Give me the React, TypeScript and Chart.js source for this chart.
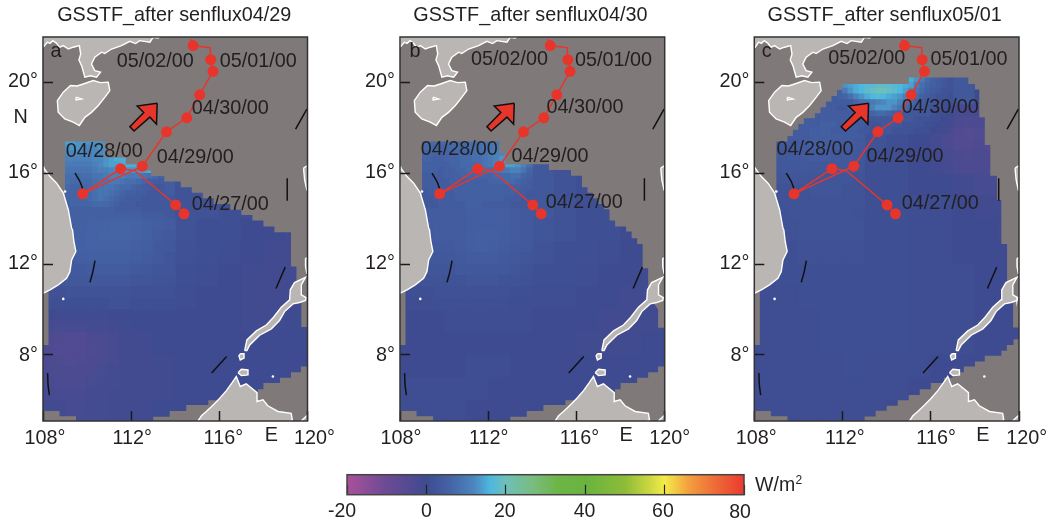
import React, { useEffect, useRef } from "react";
import { Chart, registerables } from "chart.js";

Chart.register(...registerables);

const FONT = '"Liberation Sans", Arial, sans-serif';
const TEXT = "#231F20";
const SEA_MISSING = "#7F7A79";
const LAND = "#BAB6B4";
const RED = "#E8352C";

const lonTicks = [108, 112, 116, 120];
const latTicks = [8, 12, 16, 20];
const barTicks = [-20, 0, 20, 40, 60, 80];
const titles = ["GSSTF_after senflux04/29", "GSSTF_after senflux04/30", "GSSTF_after senflux05/01"];
const dateLabels = ["05/02/00", "05/01/00", "04/30/00", "04/29/00", "04/28/00", "04/27/00"];

// colour scale stops: value, colour
const colorStops: [number, string][] = [
  [-20, "#A9519B"], [-10, "#6C4A94"], [0, "#3E4B90"], [6, "#4464A6"], [11.8, "#4C84BC"], [16, "#4DB7DF"],
  [20, "#6FBFB9"], [27, "#79BC7D"], [33, "#6EB447"], [40, "#69B33F"], [50, "#8DBC38"], [56, "#C9D640"],
  [60, "#F3EC48"], [66, "#F3A03E"], [72, "#EE7038"], [80, "#EB3A2F"],
];

// storm track: lon, lat, marker?
const trackLon = [114.4, 114.02, 112.17, 111.52, 109.8, 112.51, 113.6, 114.52, 115.11, 115.71, 115.61, 115.59, 114.81, 114.69];
const trackLat = [14.22, 14.61, 16.12, 16.21, 15.1, 16.32, 17.83, 18.45, 19.46, 20.5, 21.01, 21.54, 21.63, 21.91];
const trackMarker = [1, 1, 0, 1, 1, 1, 1, 1, 1, 1, 1, 0, 1, 0];

const arrowShape = [[113.18, 19.09], [112.27, 18.97], [112.57, 18.68], [111.94, 18.06], [112.13, 17.87], [112.85, 18.48], [113.15, 18.17]];

const blackArcs = [
  [[109.45, 16.01], [109.68, 15.63], [109.86, 15.13]],
  [[119.46, 17.95], [119.97, 18.83]],
  [[119.08, 15.79], [119.08, 14.79]],
  [[110.36, 12.16], [110.26, 11.66], [110.13, 11.2]],
  [[118.99, 11.87], [118.57, 10.93]],
  [[116.33, 7.93], [115.65, 7.2]],
  [[108.21, 7.2], [108.23, 6.68], [108.29, 6.23]],
];

const landChina = [[108, 21.56], [108.04, 21.56], [108.2, 21.78], [108.32, 21.73], [108.45, 21.85], [108.62, 21.73], [108.75, 21.55], [108.92, 21.63], [109.15, 21.48], [109.37, 21.56], [109.65, 21.63], [109.71, 21.26], [109.63, 21.0], [109.75, 20.75], [109.9, 20.24], [110.15, 20.3], [110.43, 20.24], [110.61, 20.46], [110.35, 20.53], [110.2, 20.82], [110.35, 21.12], [110.66, 21.34], [110.8, 21.28], [111.11, 21.48], [111.56, 21.63], [111.94, 21.82], [112.2, 21.72], [112.39, 21.85], [112.85, 21.78], [113.0, 22.0], [113.22, 21.97], [113.37, 22.07], [113.4, 22.2], [108, 22.2]];
const landHainan = [[108.65, 19.21], [108.92, 19.58], [109.25, 19.87], [109.55, 19.85], [109.83, 19.94], [110.28, 20.09], [110.6, 20.0], [110.96, 20.02], [111.03, 19.65], [110.81, 19.36], [110.51, 18.99], [110.2, 18.69], [109.9, 18.47], [109.65, 18.11], [109.37, 18.26], [108.99, 18.4], [108.69, 18.7]];
const landLake = [[109.5, 19.36], [109.75, 19.28], [109.5, 19.24]];
const landVietnam = [[108, 16.3], [108.04, 16.23], [108.32, 15.86], [108.62, 15.57], [108.92, 15.13], [109.15, 14.39], [109.3, 13.58], [109.34, 13.51], [109.4, 13.0], [109.49, 12.56], [109.3, 12.19], [109.22, 11.67], [109.07, 11.38], [108.69, 11.09], [108.32, 10.87], [108, 10.72]];
const landBorneo = [[115.04, 4.9], [115.04, 5.1], [115.19, 5.32], [115.41, 5.51], [115.72, 5.8], [116.02, 6.09], [116.32, 6.43], [116.58, 6.78], [116.77, 7.05], [116.95, 6.61], [117.22, 6.73], [117.71, 6.34], [117.71, 5.95], [117.98, 6.02], [118.2, 5.76], [118.66, 5.51], [119.26, 5.43], [119.31, 5.14], [119.03, 5.0]];
const landCorner = [[119.72, 5.0], [119.72, 5.1], [119.97, 5.32], [120.1, 5.32], [120.1, 5.0]];
const landBalabac = [[116.85, 7.22], [117.0, 7.37], [117.3, 7.34], [117.3, 7.12], [117.0, 7.09]];
const landBanggi = [[116.95, 8.05], [117.12, 8.05], [117.12, 7.86], [116.95, 7.78], [116.89, 7.96]];
const landPalawan = [[117.15, 8.19], [117.25, 8.66], [117.68, 9.06], [118.13, 9.32], [118.46, 9.66], [118.81, 10.1], [119.19, 10.43], [119.22, 10.87], [119.41, 11.19], [119.91, 11.42], [119.72, 11.09], [119.72, 10.65], [119.94, 10.53], [119.91, 10.4], [119.64, 10.31], [119.34, 10.25], [118.96, 9.91], [118.73, 9.52], [118.36, 9.15], [117.83, 8.87], [117.38, 8.44], [117.25, 8.19]];
const landLuzon = [[119.82, 16.23], [119.97, 16.33], [120.1, 16.3], [120.1, 15.27], [119.97, 15.27], [119.87, 15.71]];
const landMindoro = [[119.91, 12.26], [120.1, 12.26], [120.1, 11.6], [119.97, 11.6], [119.91, 11.9]];
const tinyIslands = [[118.43, 7.05], [108.92, 10.47], [109.0, 15.2]];
const lands = [landChina, landHainan, landLake, landVietnam, landBorneo, landCorner, landBalabac, landBanggi, landPalawan, landLuzon, landMindoro];

// missing-data masks, shared by the panels
const maskLeftStrip = [[108, 11], [108.25, 11], [108.25, 8.44], [108, 8.44]];
const maskBottomLeft = [[108, 5], [108, 5.53], [108.75, 5.53], [108.75, 5.3], [109.5, 5.3], [109.5, 5]];
const maskBottomAB = [[113, 5], [113, 5.28], [113.75, 5.28], [113.75, 5.53], [114.5, 5.53], [114.5, 5.79], [115.5, 5.79], [115.5, 6], [116.5, 6], [117, 6.2], [117.75, 6.3], [117.75, 6.49], [118, 6.49], [118, 6.76], [118.75, 6.76], [118.75, 7], [119.25, 7], [119.25, 7.24], [119.7, 7.24], [119.7, 7.49], [120, 7.49], [120, 5]];
const maskBottomC = [[113, 5], [113, 5.29], [113.5, 5.29], [113.5, 5.54], [114, 5.54], [114, 5.76], [114.5, 5.76], [114.5, 6], [115, 6], [115, 6.24], [115.5, 6.24], [115.5, 6.49], [116, 6.49], [116, 6.76], [116.6, 6.76], [116.6, 7], [117, 7], [117, 7.24], [117.5, 7.24], [117.5, 7.49], [118, 7.49], [118, 7.71], [118.45, 7.71], [118.45, 7.96], [119.2, 7.96], [119.2, 8.19], [119.45, 8.19], [119.45, 8.44], [119.75, 8.44], [119.75, 8.69], [120, 8.69], [120, 5]];
const maskTopA = [[108, 22.2], [120, 22.2], [120, 9.23], [119.72, 9.23], [119.72, 10.5], [119.5, 10.9], [119.5, 11.9], [119.25, 11.9], [119.25, 13.41], [118.5, 13.41], [118.5, 13.66], [118, 13.66], [118, 13.92], [117.5, 13.92], [117.5, 14.17], [117, 14.17], [117, 14.4], [116.5, 14.4], [116.5, 14.65], [115.75, 14.65], [115.75, 14.9], [115.25, 14.9], [115.25, 15.15], [114.75, 15.15], [114.75, 15.39], [114.25, 15.39], [114.25, 15.64], [113.5, 15.64], [113.5, 15.89], [112.9, 15.89], [112.9, 16.13], [112.25, 16.13], [112.25, 16.4], [111.75, 16.4], [111.75, 16.7], [110.8, 16.7], [110.8, 17.4], [109, 17.4], [109, 14], [108, 14]];
const maskTopB = [[108, 22.2], [120, 22.2], [120, 9.2], [119.7, 9.2], [119.7, 10], [119.45, 10.35], [119.25, 10.9], [119.25, 11.82], [119, 11.82], [119, 12.89], [118.75, 12.89], [118.75, 13.14], [118.5, 13.14], [118.5, 13.44], [118.25, 13.44], [118.25, 13.66], [117.75, 13.66], [117.75, 13.92], [117.5, 13.92], [117.5, 14.42], [117.25, 14.42], [117.25, 14.65], [117, 14.65], [117, 14.9], [116.75, 14.9], [116.75, 15.15], [116.5, 15.15], [116.5, 15.39], [116.25, 15.39], [116.25, 15.9], [115.75, 15.9], [115.75, 16.15], [114.75, 16.15], [114.75, 16.4], [112.75, 16.4], [112.75, 16.89], [112.5, 16.89], [112.5, 17.4], [109, 17.4], [109, 14], [108, 14]];
const maskTopC = [[108, 22.2], [120, 22.2], [120, 9.21], [119.73, 9.21], [119.73, 10.3], [119.46, 10.6], [119.46, 12.89], [119.2, 12.89], [119.2, 14.83], [119, 14.83], [119, 15.9], [118.7, 15.9], [118.7, 17.25], [118.45, 17.25], [118.45, 18.47], [118.2, 18.47], [118.2, 19.7], [118, 19.7], [118, 19.94], [117.7, 19.94], [117.7, 20.22], [115, 20.22], [115, 19.94], [112, 19.94], [112, 19.68], [111.75, 19.68], [111.75, 19.41], [111.5, 19.41], [111.5, 19.17], [111.25, 19.17], [111.25, 18.92], [111, 18.92], [111, 18.65], [110.75, 18.65], [110.75, 18.43], [110.25, 18.43], [110.25, 18.18], [110, 18.18], [110, 17.92], [109.75, 17.92], [109.75, 17.65], [109.5, 17.65], [109.5, 17.4], [109, 17.4], [109, 14], [108, 14]];

// flux values on a 1 degree grid, rows from 21N to 5N, columns from 108E
const fluxA = [
  [0, 0, 0, 0, 0, 0, 0, 0, 0, 0, 0, 0],
  [0, 0, 0, 0, 0, 0, 0, 0, 0, 0, 0, 0],
  [0, 0, 0, 0, 0, 0, 0, 0, 0, 0, 0, 0],
  [6, 8, 8, 8, 6, 3, 2, 1, 1, 1, 1, 0],
  [6, 8, 8, 9, 8, 4, 3, 2, 1, 1, 1, 0],
  [5, 6, 6, 6, 5, 4, 2, 2, 1, 1, 0, 0],
  [5, 5, 4, 4, 3, 3, 2, 2, 1, 1, 0, 0],
  [4, 5, 6, 6, 5, 3, 2, 1, 1, 0, 0, -1],
  [3, 4, 5, 5, 4, 2, 1.5, 1, 0.5, 0, -1, -1],
  [3, 3, 3, 3, 2, 1.5, 1, 0.5, 0, -0.5, -1, -1],
  [1, 1, 1, 1, 1, 1, 0.5, 0, 0, -0.5, -1, -1],
  [-1, -1, -1, -0.5, 0, 0, 0, 0, 0, -0.5, -0.5, 0],
  [-3, -4, -3.5, -2, -1, 0, 0, 0, 0, 0, 0, 0],
  [-3, -3.5, -3, -2, -1, -0.5, 0, 0, 0, 0, 0, 0],
  [-2, -2.5, -2, -1.5, -1, -0.5, 0, 0, 0, 0, 0, 0],
  [-1, -2, -1.5, -1, -1, 0, 0, 0, 0, 0, 0, 0],
];
const fluxB = [
  [0, 0, 0, 0, 0, 0, 0, 0, 0, 0, 0, 0],
  [0, 0, 0, 0, 0, 0, 0, 0, 0, 0, 0, 0],
  [0, 0, 0, 0, 0, 0, 0, 0, 0, 0, 0, 0],
  [5, 6, 6, 7, 7, 5, 3, 3, 2, 2, 1, 1],
  [5, 5, 6, 7, 8, 6, 3, 2, 2, 1, 1, 1],
  [4, 4, 5, 5, 5, 5, 3, 2, 1, 1, 1, 0],
  [3, 4, 4, 5, 5, 4, 3, 2, 1, 1, 1, 0],
  [3, 4, 4, 4, 5, 4, 2.5, 2, 1, 1, 0, 0],
  [2, 3, 4, 4, 4.5, 3, 2, 1, 1, 0.5, 0, 0],
  [2, 2, 2, 3, 3, 2, 1, 1, 0.5, 0, 0, -0.5],
  [1, 1, 1, 1.5, 1.5, 1, 0.5, 0.5, 0, 0, -1, -1],
  [0, 0, 0.5, 0.5, 0.5, 0.5, 0, 0, 0, -1, -1, -0.5],
  [0, 0, 0, 0, 0, 0, 0, 0, -0.5, -1, -0.5, 0],
  [0, 0, 0, 0.5, 0.5, 0, 0, 0, 0, 0, 0, 0],
  [0.5, 0.5, 0.5, 0.5, 0, 0, 0, 0, 0, 0, 0, 0],
  [0.5, 0.5, 0.5, 0, 0, 0, 0, 0, 0, 0, 0, 0],
];
const fluxC = [
  [0, 0, 0, 0, 5, 8, 8, 8, 6, 3, 1, 0],
  [0, 0, 2, 3, 4, 6, 8, 8, 6, 3, 0, -1],
  [0, 2, 4, 4, 3, 2, 3, 3, 2, -1, -2, -2],
  [3, 4, 5, 4, 3, 2, 1, 0, -1, -3, -5, -3],
  [3, 3, 3, 3, 2, 1, 1, 0, -1, -2, -3, -3],
  [2, 2, 2, 2, 2, 1, 1, 0, 0, -1, -2, -2],
  [1.5, 2, 2, 2, 2, 1, 1, 0.5, 0.5, 0, -1, -1],
  [1, 1.5, 2, 2, 2, 1, 1, 0.5, 0.5, 0, 0, -0.5],
  [1, 1, 1.5, 1.5, 1.5, 1, 1, 0.5, 0.5, 0, 0, 0],
  [0.5, 1, 1, 1, 1, 1, 1, 0.5, 0.5, 0.5, 0, 0],
  [0.5, 0.5, 1, 1, 1, 1, 1, 0.5, 0.5, 0.5, 0, 0],
  [0.5, 0.5, 0.5, 1, 1, 1, 1, 0.5, 0.5, 0.5, 0, 0],
  [0.5, 0.5, 0.5, 1, 1, 1, 1, 0.5, 0.5, 0.5, 0, 0],
  [0.5, 0.5, 0.5, 0.5, 1, 0.5, 0.5, 0.5, 0, 0, 0, 0],
  [0.5, 0.5, 0.5, 0.5, 0.5, 0.5, 0.5, 0, 0, 0, 0, 0],
  [0.5, 0.5, 0.5, 0.5, 0.5, 0.5, 0, 0, 0, 0, 0, 0],
];

// 0.5 degree detail
const midA1 = [
  [4.5, 4.5, 5, 5, 5.5, 5.5, 6, 6, 5.5, 5, 4.5, 4],
  [4, 4.5, 5, 5, 5.5, 6, 6, 6, 5.5, 5, 4, 3.5],
  [3.5, 4, 4.5, 5, 5.5, 5.5, 5.5, 5.5, 5, 4.5, 3.5, 3],
  [3, 3.5, 4, 4.5, 5, 5, 5, 5, 4.5, 4, 3.5, 2.5],
  [3, 3, 3.5, 3.5, 4, 4, 4, 4, 3.5, 3, 2.5, 2.5],
  [2.5, 2.5, 3, 3, 3, 3, 3, 3, 2.5, 2.5, 2, 2],
  [1.5, 1.5, 2, 2, 2, 2, 2, 2, 1.5, 1.5, 1.5, 1.5],
  [1, 1, 1, 1, 1, 1, 1.5, 1.5, 1, 1, 1, 1],
];
const midA2 = [
  [0, -0.5, -0.5, -0.5, -0.5, -0.5, 0, 0],
  [-1.5, -2, -2, -2, -1.5, -1.5, -1, -0.5],
  [-3, -3.5, -4, -4, -3, -2.5, -2, -1],
  [-3.5, -4, -4.5, -4, -3.5, -3, -2, -1],
  [-3, -3.5, -4, -3.5, -3, -2.5, -2, -1],
  [-2.5, -3, -3, -3, -2.5, -2, -1.5, -1],
  [-2, -2.5, -2.5, -2.5, -2, -1.5, -1.5, -1],
  [-1.5, -2, -2, -2, -1.5, -1.5, -1, -1],
];
const midB1 = [
  [3.5, 3.5, 4, 4, 4, 4, 4.5, 4.5, 4.5, 4.5, 4, 3.5],
  [3.5, 3.5, 4, 4, 4, 4, 4.5, 4.5, 4.5, 4.5, 4, 3.5],
  [3, 3.5, 3.5, 4, 4, 4, 4.5, 5, 5, 4.5, 4, 3.5],
  [3, 3, 3.5, 3.5, 3.5, 4, 4.5, 5, 4.5, 4, 3.5, 3],
  [2.5, 2.5, 3, 3, 3, 3.5, 4, 4, 4, 3.5, 3, 2.5],
  [2, 2, 2.5, 2.5, 2.5, 3, 3, 3, 3, 3, 2.5, 2],
  [1.5, 1.5, 2, 2, 2, 2, 2.5, 2.5, 2.5, 2, 2, 1.5],
  [1, 1, 1, 1.5, 1.5, 1.5, 1.5, 1.5, 1.5, 1.5, 1, 1],
  [0.5, 0.5, 0.5, 1, 1, 1, 1, 1, 1, 1, 0.5, 0.5],
];
const midC1 = [
  [0, -1, -2, -2, -1.5],
  [-1, -2, -3, -3.5, -3],
  [-2, -3, -4.5, -5, -4],
  [-1.5, -2.5, -4, -4.5, -3.5],
  [-1, -2, -3, -3.5, -3],
  [-1, -1.5, -2.5, -3, -3],
];
const midC2 = [
  [3.5, 4, 4, 4.5, 4.5, 4.5, 4, 4],
  [3.5, 3.5, 4, 4.5, 4.5, 4, 4, 3.5],
  [3, 3.5, 3.5, 4, 4, 3.5, 3.5, 3],
  [3, 3, 3, 3, 3, 3, 3, 2.5],
  [2.5, 2.5, 2.5, 2.5, 2.5, 2.5, 2.5, 2],
  [2, 2, 2, 2.5, 2.5, 2.5, 2, 2],
  [2, 2, 2, 2, 2, 2, 2, 2],
  [1.5, 2, 2, 2, 2, 2, 2, 1.5],
];

// 0.25 degree detail where the flux is strong
const hotA = [
  [14, 14, 13, 13, 13, 13, 13, 13, 14, 14, 14, 14, 14, 14, 10, 8, 6, 6],
  [13, 13, 13, 12, 12, 12, 13, 13, 14, 14, 15, 15, 15, 15, 10, 8, 6, 6],
  [12, 12, 12, 12, 11, 12, 12, 13, 14, 15, 15, 16, 16, 15, 12, 8, 6, 6],
  [11, 11, 11, 11, 11, 12, 12, 13, 14, 15, 15, 16, 16, 15, 14, 10, 7, 6],
  [10, 10, 10, 10, 10, 11, 12, 13, 14, 14, 15, 15, 15, 15, 15, 15, 13, 9],
  [9, 9, 9, 9, 9, 10, 11, 11, 12, 13, 13, 13, 13, 13, 14, 15, 13, 8],
  [8, 8, 7, 8, 8, 9, 9, 10, 11, 11, 11, 10, 10, 10, 9, 8, 7, 5],
  [8, 7, 7, 7, 7, 8, 9, 9, 10, 10, 9, 8, 8, 7, 6, 5, 4, 4],
  [7, 6, 6, 6, 7, 8, 9, 9, 9, 8, 7, 7, 6, 5, 4, 4, 3, 3],
  [6, 6, 6, 6, 7, 8, 9, 9, 8, 7, 6, 5, 5, 4, 4, 3, 3, 3],
  [6, 6, 6, 6, 7, 8, 9, 8, 7, 6, 5, 4, 4, 4, 3, 3, 3, 3],
  [5, 6, 6, 6, 6, 7, 7, 7, 6, 5, 4, 4, 4, 3, 3, 3, 3, 3],
  [5, 5, 5, 5, 5, 5, 5, 5, 5, 4, 4, 4, 4, 4, 3, 3, 3, 3],
  [5, 5, 5, 5, 5, 5, 5, 5, 5, 5, 5, 5, 5, 5, 4, 4, 4, 4],
];
const hotB = [
  [7, 7, 7, 7, 7, 7, 7, 7, 8, 8, 8, 9, 9, 9, 9, 9, 6, 6, 6, 6],
  [7, 7, 6, 6, 6, 7, 7, 7, 8, 8, 8, 9, 9, 10, 10, 10, 8, 6, 6, 6],
  [6, 6, 6, 6, 6, 6, 7, 7, 7, 8, 8, 9, 10, 11, 12, 13, 14, 12, 8, 6],
  [6, 6, 5, 5, 6, 6, 6, 7, 7, 8, 8, 9, 10, 11, 13, 14, 15, 14, 10, 8],
  [5, 5, 5, 5, 5, 6, 6, 7, 7, 7, 8, 9, 10, 12, 13, 14, 14, 13, 11, 8],
  [5, 5, 5, 4, 5, 5, 6, 6, 7, 7, 7, 8, 8, 9, 10, 10, 11, 11, 9, 6],
  [4, 4, 4, 4, 5, 5, 5, 6, 6, 6, 6, 6, 6, 7, 7, 7, 8, 8, 6, 5],
  [4, 4, 4, 4, 4, 5, 5, 5, 5, 5, 5, 5, 6, 6, 6, 7, 7, 6, 5, 4],
  [4, 4, 4, 4, 4, 4, 5, 5, 5, 5, 5, 5, 5, 5, 5, 5, 5, 5, 4, 4],
  [3, 4, 4, 4, 4, 4, 5, 5, 5, 5, 5, 5, 5, 5, 5, 5, 5, 4, 4, 3],
  [3, 3, 4, 4, 4, 4, 5, 5, 5, 5, 5, 5, 5, 5, 5, 4, 4, 4, 3, 3],
  [3, 3, 3, 4, 4, 4, 4, 4, 5, 5, 5, 4, 4, 4, 4, 4, 3, 3, 3, 3],
];
const hotC = [
  [8, 8, 8, 8, 8, 8, 8, 8, 8, 8, 8, 8, 8, 8, 8, 14, 15, 13, 10, 7, 5, 4, 3, 2],
  [3, 3, 3, 4, 13, 14, 15, 16, 17, 17, 18, 18, 18, 17, 16, 15, 14, 11, 8, 6, 5, 4, 3, 2],
  [3, 3, 4, 5, 10, 13, 15, 16, 18, 19, 20, 20, 19, 18, 16, 14, 12, 9, 7, 5, 4, 3, 2, 2],
  [3, 4, 4, 5, 6, 8, 11, 13, 15, 16, 17, 16, 15, 14, 13, 11, 9, 7, 5, 4, 3, 2, 2, 1],
  [3, 4, 4, 4, 4, 4, 6, 8, 9, 10, 11, 12, 13, 13, 11, 9, 7, 5, 4, 3, 3, 2, 1, 1],
  [4, 4, 4, 3, 3, 5, 6, 7, 9, 11, 13, 13, 13, 11, 9, 7, 5, 4, 3, 3, 2, 2, 1, 0],
  [4, 4, 4, 4, 4, 4, 5, 5, 5, 6, 7, 7, 6, 5, 4, 3, 3, 3, 3, 3, 2, 1, 1, 0],
  [4, 4, 4, 4, 4, 4, 4, 4, 3, 3, 3, 3, 3, 3, 3, 3, 3, 2, 2, 2, 1, 1, 0, -1],
  [5, 5, 5, 4, 4, 4, 4, 4, 3, 2, 2, 3, 3, 3, 3, 2, 2, 2, 2, 1, 1, 0, -1, -1],
  [5, 5, 4, 4, 4, 4, 4, 3, 3, 2, 3, 3, 3, 2, 2, 2, 2, 1, 1, 1, 0, -1, -1, -2],
];

// date labels: lon, lat of their left edge, one list per panel
const labelPosA = [[111.35, 20.93], [116.02, 20.91], [114.75, 18.84], [113.16, 16.68], [109.03, 16.96], [114.75, 14.61]];
const labelPosB = [[111.22, 21.0], [115.93, 20.96], [114.64, 18.89], [113.06, 16.73], [108.94, 17.04], [114.61, 14.7]];
const labelPosC = [[111.35, 21.04], [115.99, 21.0], [114.68, 18.89], [113.09, 16.73], [109.01, 17.04], [114.69, 14.66]];

const hex = (s: string) => [1, 3, 5].map((i) => parseInt(s.slice(i, i + 2), 16));
function colorFor(v: number) {
  for (let i = 1; i < colorStops.length; i++) {
    if (v <= colorStops[i][0]) {
      const [a, ca] = colorStops[i - 1];
      const [b, cb] = colorStops[i];
      const t = Math.max(0, (v - a) / (b - a));
      const A = hex(ca), B = hex(cb);
      return `rgb(${A.map((c, k) => Math.round(c + (B[k] - c) * t)).join(",")})`;
    }
  }
  return colorStops[colorStops.length - 1][1];
}

function heat(rows: number[][], lon0: number, latTop: number, step: number, pxPerDeg: number) {
  const data: any[] = [];
  const colors: string[] = [];
  rows.forEach((row, r) =>
    row.forEach((v, c) => {
      data.push({ x: lon0 + step * (c + 0.5), y: [latTop - step * (r + 1), latTop - step * r] });
      colors.push(colorFor(v));
    })
  );
  return {
    type: "bar", stack: "h", data, backgroundColor: colors, borderWidth: 0, inflateAmount: 0.5,
    barThickness: step * pxPerDeg,
  };
}
const toPts = (list: number[][], close = false) => {
  const pts = list.map(([x, y]) => ({ x, y }));
  if (close) pts.push({ x: list[0][0], y: list[0][1] });
  return pts;
};
const polygon = (list: number[][], fillColor: string, stroke?: string, width = 0) => ({
  type: "scatter", showLine: true, data: toPts(list, true), fill: "shape", backgroundColor: fillColor,
  borderColor: stroke || fillColor, borderWidth: width, pointRadius: 0, tension: 0,
});

type Patch = { rows: number[][]; lon: number; lat: number; step: number };
type Panel = {
  title: string; titleShift: number; left: number; plotLeft: number; plotRight: number;
  flux: number[][]; patches: Patch[]; masks: number[][][];
  labelPos: number[][]; letter: string; letterLon: number; eLon: number; shiftX: number[]; showN: boolean;
};
const panels: Panel[] = [
  { title: titles[0], titleShift: -1, left: 0, plotLeft: 43, plotRight: 307.5, flux: fluxA, patches: [{ rows: midA1, lon: 108, lat: 14, step: 0.5 }, { rows: midA2, lon: 108, lat: 10, step: 0.5 }, { rows: hotA, lon: 109, lat: 17.5, step: 0.25 }], masks: [maskTopA, maskLeftStrip, maskBottomLeft, maskBottomAB], labelPos: labelPosA, letter: "a", letterLon: 108.59, eLon: 118.36, shiftX: [2, 1, 4, 7], showN: true },
  { title: titles[1], titleShift: -2, left: 350, plotLeft: 50, plotRight: 314.7, flux: fluxB, patches: [{ rows: midB1, lon: 108, lat: 14.5, step: 0.5 }, { rows: hotB, lon: 109, lat: 17.5, step: 0.25 }], masks: [maskTopB, maskLeftStrip, maskBottomLeft, maskBottomAB], labelPos: labelPosB, letter: "b", letterLon: 108.68, eLon: 118.25, shiftX: [1, 0.5, 3, 5], showN: false },
  { title: titles[2], titleShift: -2, left: 700, plotLeft: 54.3, plotRight: 319, flux: fluxC, patches: [{ rows: midC1, lon: 116, lat: 19, step: 0.5 }, { rows: midC2, lon: 109, lat: 18, step: 0.5 }, { rows: hotC, lon: 111, lat: 20.25, step: 0.25 }], masks: [maskTopC, maskLeftStrip, maskBottomLeft, maskBottomC], labelPos: labelPosC, letter: "c", letterLon: 108.56, eLon: 118.36, shiftX: [2, 2.3, 5.3, 7.7], showN: false },
];

const shiftLabels = (scale: any, dx: number[], dy: number[]) => {
  if (scale.$shifted) return;
  scale.$shifted = true;
  scale.getLabelItems().forEach((it: any, i: number) => {
    it.options.translation[0] += dx[i] || 0;
    it.options.translation[1] += dy[i] || 0;
  });
};

function makePanel(canvas: HTMLCanvasElement, p: Panel) {
  const pxPerLon = (p.plotRight - p.plotLeft) / 12;
  const layers: any[] = [
    heat(p.flux, 108, 21, 1, pxPerLon),
    ...p.patches.map((q) => heat(q.rows, q.lon, q.lat, q.step, pxPerLon)),
    ...p.masks.map((m) => polygon(m, SEA_MISSING)),
    ...lands.map((l) => polygon(l, LAND, "#FFFFFF", 1.4)),
    { type: "scatter", data: toPts(tinyIslands), pointRadius: 1.3, pointBackgroundColor: "#FFFFFF", pointBorderWidth: 0 },
    ...blackArcs.map((a) => ({
      type: "scatter", showLine: true, data: toPts(a), borderColor: "#111111", borderWidth: 1.5, pointRadius: 0, fill: false, tension: 0.3,
    })),
    polygon(arrowShape, RED, "#111111", 1.5),
    {
      type: "scatter", showLine: true, fill: false, tension: 0,
      data: trackLon.map((x, i) => ({ x, y: trackLat[i] })),
      borderColor: RED, borderWidth: 1.5,
      pointRadius: trackMarker.map((m) => (m ? 5.5 : 0)),
      pointBackgroundColor: RED, pointBorderWidth: 0,
    },
  ];
  const datasets = layers.map((d, i) => ({ ...d, order: layers.length - i }));
  const textPlugin = {
    id: "mapText",
    beforeDraw(chart: any) {
      shiftLabels(chart.scales.x, p.shiftX, []);
      shiftLabels(chart.scales.y, [], [1, -1, -1, -1]);
    },
    beforeDatasetsDraw(chart: any) {
      const { left, top, width, height } = chart.chartArea;
      chart.ctx.fillStyle = SEA_MISSING;
      chart.ctx.fillRect(left, top, width, height);
    },
    afterDraw(chart: any) {
      const { ctx, scales: { x, y }, chartArea: a } = chart;
      ctx.save();
      ctx.fillStyle = TEXT;
      ctx.font = `19.8px ${FONT}`;
      ctx.textBaseline = "middle";
      ctx.textAlign = "left";
      dateLabels.forEach((t, i) => ctx.fillText(t, x.getPixelForValue(p.labelPos[i][0]), y.getPixelForValue(p.labelPos[i][1])));
      ctx.textAlign = "center";
      ctx.fillText(p.letter, x.getPixelForValue(p.letterLon), y.getPixelForValue(21.35));
      ctx.fillText("E", x.getPixelForValue(p.eLon), y.getPixelForValue(4.43));
      if (p.showN) ctx.fillText("N", x.getPixelForValue(106.99), y.getPixelForValue(18.48));
      ctx.strokeStyle = "#333333";
      ctx.lineWidth = 1.5;
      ctx.strokeRect(a.left, a.top, a.width, a.height);
      ctx.restore();
    },
    afterLayout(chart: any) {
      chart.titleBlock.left += p.titleShift;
      chart.titleBlock.right += p.titleShift;
    },
  };
  const grid = { display: true, drawOnChartArea: false, drawTicks: true, tickLength: -10, tickWidth: 1.5, tickColor: "#1A1A1A", z: 2, offset: false };
  return new Chart(canvas, {
    type: "scatter",
    data: { datasets } as any,
    plugins: [textPlugin],
    options: {
      responsive: false, animation: false, events: [],
      layout: { padding: { left: 0, right: 350 - p.plotRight, top: 0, bottom: 0 } },
      plugins: {
        legend: { display: false }, tooltip: { enabled: false },
        title: { display: true, text: p.title, fullSize: false, color: TEXT, font: { family: FONT, size: 19.8, weight: "normal", lineHeight: 1.2 }, padding: { top: 4, bottom: 9.24 } },
      },
      scales: {
        x: {
          type: "linear", min: 108, max: 120, offset: false, grid, border: { display: false },
          afterBuildTicks: (s: any) => { s.ticks = lonTicks.map((value) => ({ value })); },
          afterFit: (s: any) => { s.height = 39; s.paddingLeft = 0; s.paddingRight = 0; },
          ticks: { autoSkip: false, maxRotation: 0, padding: 16, color: TEXT, font: { family: FONT, size: 19.8 }, callback: (v: any) => `${v}°` },
        },
        y: {
          type: "linear", min: 5.09, max: 22.01, stacked: false, grid, border: { display: false },
          afterBuildTicks: (s: any) => { s.ticks = latTicks.map((value) => ({ value })); },
          afterFit: (s: any) => { s.width = p.plotLeft; s.paddingTop = 0; s.paddingBottom = 0; },
          ticks: { autoSkip: false, padding: 15, color: TEXT, font: { family: FONT, size: 19.8 }, callback: (v: any) => `${v}°` },
        },
      },
    } as any,
  });
}

function makeColorbar(canvas: HTMLCanvasElement) {
  const plugin = {
    id: "barText",
    beforeDraw(chart: any) {
      shiftLabels(chart.scales.x, [-5, 0, -1, -0.7, -1.7, -4], [0, 0, 0, 0, 0, 1.7]);
    },
    afterDraw(chart: any) {
      const { ctx, scales: { x }, chartArea: a } = chart;
      ctx.save();
      ctx.strokeStyle = "#444444";
      ctx.lineWidth = 1.5;
      ctx.strokeRect(a.left, a.top, a.width, a.height);
      ctx.fillStyle = TEXT;
      ctx.textBaseline = "middle";
      ctx.textAlign = "left";
      ctx.font = `19.5px ${FONT}`;
      const ux = x.getPixelForValue(82.8);
      ctx.fillText("W/m", ux, 26);
      ctx.font = `12px ${FONT}`;
      ctx.fillText("2", ux + 40.5, 21);
      ctx.restore();
    },
  };
  return new Chart(canvas, {
    type: "bar",
    plugins: [plugin],
    data: {
      labels: [""],
      datasets: [{
        data: [[barTicks[0], barTicks[barTicks.length - 1]]],
        borderWidth: 0, barPercentage: 1, categoryPercentage: 1,
        backgroundColor: (c: any) => {
          const ch = c.chart;
          if (!ch.chartArea) return colorStops[0][1];
          const x0 = ch.scales.x.getPixelForValue(-20), x1 = ch.scales.x.getPixelForValue(80);
          const g = ch.ctx.createLinearGradient(x0, 0, x1, 0);
          colorStops.forEach(([v, col]) => g.addColorStop((v + 20) / 100, col));
          return g;
        },
      }],
    } as any,
    options: {
      indexAxis: "y", responsive: false, animation: false, events: [],
      layout: { padding: { left: 47, right: 86, top: 14.7, bottom: 0 } },
      plugins: { legend: { display: false }, tooltip: { enabled: false } },
      scales: {
        x: {
          type: "linear", min: -20, max: 80,
          grid: { display: true, drawOnChartArea: false, drawTicks: true, tickLength: -10, tickWidth: 1.2, tickColor: "#222222", z: 2 },
          border: { display: false },
          afterBuildTicks: (s: any) => { s.ticks = barTicks.map((value) => ({ value })); },
          afterFit: (s: any) => { s.height = 30.3; s.paddingLeft = 0; s.paddingRight = 0; },
          ticks: { autoSkip: false, maxRotation: 0, padding: 15, color: TEXT, font: { family: FONT, size: 19.5 } },
        },
        y: { display: false },
      },
    } as any,
  });
}

export default function App() {
  const refs = [useRef<HTMLCanvasElement>(null), useRef<HTMLCanvasElement>(null), useRef<HTMLCanvasElement>(null)];
  const barRef = useRef<HTMLCanvasElement>(null);
  useEffect(() => {
    const charts = panels.map((p, i) => makePanel(refs[i].current!, p));
    charts.push(makeColorbar(barRef.current!));
    return () => charts.forEach((c) => c.destroy());
  }, []);
  return (
    <div style={{ position: "absolute", left: 0, top: 0, width: 1050, height: 525, overflow: "hidden", background: "#FFFFFF" }}>
      {panels.map((p, i) => (
        <canvas key={p.letter} ref={refs[i]} width={350} height={460} style={{ position: "absolute", left: p.left, top: 0, width: 350, height: 460 }} />
      ))}
      <canvas ref={barRef} width={530} height={65} style={{ position: "absolute", left: 300, top: 460, width: 530, height: 65 }} />
    </div>
  );
}
